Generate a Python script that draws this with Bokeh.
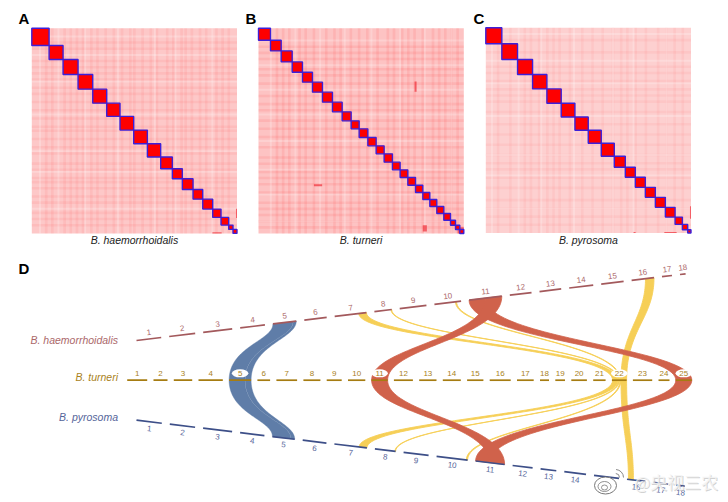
from bokeh.plotting import figure
from bokeh.models import Range1d
from bokeh.embed import file_html
from bokeh.resources import INLINE
from bokeh.core.properties import value
import math

# ---------- data ----------
names = ["B. haemorrhoidalis", "B. turneri", "B. pyrosoma"]
haem_len = [24.7, 26, 29, 24.7, 23.4, 22.4, 31.7, 17.3, 26.7, 26.7, 32.7, 21.7, 21.7, 24, 22.4, 22.4, 10, 5.6]
turn_len = [20, 14, 18.4, 24.3, 22, 12.7, 20.7, 17, 15, 17.3, 16, 19, 17.3, 18, 16.3, 21, 16.7, 9, 9.7, 15.6, 12.4, 14.7, 19.3, 11, 16]
pyro_len = [25.3, 25.3, 29, 24.3, 22.3, 23.7, 32.5, 20.7, 25, 31, 29, 20, 15.7, 21.7, 25, 18.3, 15, 8.4]

# contact-map block sizes
hic_a = [17.3, 14, 15, 14.7, 14, 13.3, 13.7, 13.7, 13.3, 11.7, 10, 10.7, 9.7, 10, 8.3, 7.7, 4.3, 4]
hic_b = [12, 10.7, 11, 10.3, 10, 10, 10, 9.7, 9, 8, 8.7, 8.3, 8, 8.3, 7.7, 7.7, 7.7, 7.3, 7, 7, 7, 6.7, 5, 4.3, 4]
hic_c = [16, 15.7, 15, 14.3, 14.3, 13.7, 13.3, 13, 13, 11, 10, 10, 10, 10, 9.7, 7.3, 5.3, 3.3]

# stripes in the contact maps (fraction along the axis)
dark_a = [.07, .10, .16, .19, .22, .25, .29, .32, .36, .40, .44, .48, .50, .54, .58, .61, .66, .69, .73, .75, .78, .82, .85, .90, .93, .96]
light_a = [.04, .13, .26, .42, .60, .70, .88]
dark_b = [.09, .12, .15, .20, .23, .27, .33, .37, .40, .45, .49, .53, .58, .63, .66, .70, .73, .76, .80, .85, .88, .91, .94, .97]
light_b = [.06, .18, .30, .42, .55, .69, .81, .94]
dark_c = [.06, .12, .19, .22, .26, .30, .33, .36, .41, .47, .52, .57, .62, .66, .69, .73, .78, .84, .88, .92, .96]
light_c = [.03, .16, .27, .43, .62, .72, .88]
# strong patches (x0, x1, y0, y1 as fractions)
spots_a = [(.995, 1, .88, .925), (.88, .925, .995, 1)]
spots_b = [(.76, .77, .26, .31), (.27, .31, .76, .77), (.80, .82, .96, .99), (.97, 1, .97, 1)]
spots_c = [(.995, 1, .87, .93), (.87, .93, .995, 1), (.72, .73, .995, 1)]

# synteny links: (other track, chromosome, from, to, turneri chromosome, from, to, colour key)
links = [
    (0, 5, 0, .86, 5, 0, .72, "b"), (0, 5, .87, 1, 5, .73, 1, "b"),
    (2, 5, 0, .83, 5, 0, .72, "b"), (2, 5, .84, 1, 5, .73, 1, "b"),
    (0, 7, .76, 1, 22, .05, .42, "y"), (0, 8, .96, 1, 22, .44, .52, "y"),
    (0, 10, .79, .83, 22, .55, .61, "y"), (0, 16, .62, 1, 22, .62, 1, "y"),
    (2, 7, .76, 1, 22, .05, .42, "y"), (2, 8, .97, 1, 22, .44, .52, "y"),
    (2, 10, .96, 1, 22, .55, .61, "y"), (2, 16, .08, .35, 22, .62, 1, "y"),
    (0, 11, 0, .5, 25, 0, 1, "r"), (0, 11, .5, 1, 11, 0, 1, "r"),
    (2, 11, 0, .48, 25, 0, 1, "r"), (2, 11, .48, 1, 11, 0, 1, "r"),
]
oval_chroms = [5, 11, 22, 25]

# ---------- styles ----------
link_col = {"b": "#5f7da8", "y": "#f6cf57", "r": "#d0624b"}
link_bend = {"b": (.3, .4), "y": (.4, .5), "r": (.5, .6)}
link_edge = {"b": .4, "y": .9, "r": .8}
track_col = ["#a3595c", "#a67c12", "#3d4f88"]
label_col = ["#ad6a6c", "#a9821c", "#55659a"]
name_col = ["#ab686a", "#a9821c", "#55659a"]
font = value("Liberation Sans")

p = figure(width=728, height=502, x_range=Range1d(0, 728), y_range=Range1d(502, 0),
           output_backend="svg", toolbar_location=None, min_border=0)
p.axis.visible = False
p.grid.visible = False
p.outline_line_color = None
p.background_fill_color = "white"


def heatmap(x0, y0, size, base, k, blocks, dark, light, spots, letter, lx, title):
    p.quad(left=[x0], right=[x0 + size], top=[y0], bottom=[y0 + size],
           fill_color=base, line_color=None)
    w = 2.6
    for f in dark:
        c = min(max(x0 + f * size, x0 + w / 2), x0 + size - w / 2)
        r = min(max(y0 + f * size, y0 + w / 2), y0 + size - w / 2)
        p.quad(left=[c - w / 2], right=[c + w / 2], top=[y0], bottom=[y0 + size], fill_color="#f33",
               fill_alpha=k, line_color=None)
        p.quad(left=[x0], right=[x0 + size], top=[r - w / 2], bottom=[r + w / 2], fill_color="#f33",
               fill_alpha=k, line_color=None)
    for f in light:
        c = x0 + f * size
        r = y0 + f * size
        p.quad(left=[c - 1], right=[c + 1], top=[y0], bottom=[y0 + size], fill_color="white",
               fill_alpha=.22, line_color=None)
        p.quad(left=[x0], right=[x0 + size], top=[r - 1], bottom=[r + 1], fill_color="white",
               fill_alpha=.22, line_color=None)
    for a, b, c, d in spots:
        p.quad(left=[x0 + a * size], right=[x0 + b * size], top=[y0 + c * size], bottom=[y0 + d * size],
               fill_color="#f0303a", fill_alpha=.7, line_color=None)
    total = sum(blocks)
    pos = 0
    ls, rs, ts, bs = [], [], [], []
    for b in blocks:
        ls.append(x0 + pos / total * size)
        ts.append(y0 + pos / total * size)
        pos += b
        rs.append(x0 + pos / total * size)
        bs.append(y0 + pos / total * size)
    p.quad(left=ls, right=rs, top=ts, bottom=bs, fill_color="#fe0000", line_color="#3d20d8", line_width=1.4)
    p.text([lx], [18], text=[letter], text_font=value("Liberation Sans"), text_font_style="bold",
           text_font_size="15px", text_color="black", text_align="left", text_baseline="middle")
    p.text([x0 + size / 2], [239.5], text=[title], text_font=font, text_font_style="italic",
           text_font_size="10.5px", text_color="#222", text_align="center", text_baseline="middle")


heatmap(31.3, 27.7, 205.2, "#fdc8c8", .08, hic_a, dark_a, light_a, spots_a, "A", 18, names[0])
heatmap(258, 27.7, 205.3, "#fdc3c3", .11, hic_b, dark_b, light_b, spots_b, "B", 245, names[1])
heatmap(485.3, 27.3, 205.2, "#fdd0d0", .06, hic_c, dark_c, light_c, spots_c, "C", 473, names[2])
p.text([18], [267.5], text=["D"], text_font=font, text_font_style="bold", text_font_size="15px",
       text_color="black", text_align="left", text_baseline="middle")


# ---------- karyotype tracks ----------
def layout(lengths, start, gap):
    out = []
    x = start
    for l in lengths:
        out.append((x, x + l))
        x += l + gap
    return out


tracks = [layout(haem_len, 136, 8.0), layout(turn_len, 126.7, 6.3), layout(pyro_len, 136, 8.0)]
y_fn = [lambda x: 340 - .1214 * (x - 136), lambda x: 379.7, lambda x: 419.7 + .1204 * (x - 136)]
ang = [math.degrees(math.atan(.1214)), 0, -math.degrees(math.atan(.1204))]
lab_off = [-6.5, -7, 7]


def bez(x0, y0, x1, y1, bend, n=48):
    c1 = y0 + bend[0] * (y1 - y0)
    c2 = y0 + bend[1] * (y1 - y0)
    xs, ys = [], []
    for i in range(n + 1):
        t = i / n
        u = 1 - t
        xs.append(u**3 * x0 + 3 * u * u * t * x0 + 3 * u * t * t * x1 + t**3 * x1)
        ys.append(u**3 * y0 + 3 * u * u * t * c1 + 3 * u * t * t * c2 + t**3 * y1)
    return xs, ys


for tr, ch, a, b, mch, c, d, key in links:
    s0, s1 = tracks[tr][ch - 1]
    m0, m1 = tracks[1][mch - 1]
    xa, xb = s0 + a * (s1 - s0), s0 + b * (s1 - s0)
    xc, xd = m0 + c * (m1 - m0), m0 + d * (m1 - m0)
    ya, yb, yc = y_fn[tr](xa), y_fn[tr](xb), y_fn[1](xc)
    l1x, l1y = bez(xa, ya, xc, yc, link_bend[key])
    l2x, l2y = bez(xb, yb, xd, yc, link_bend[key])
    p.patch(l1x + l2x[::-1], l1y + l2y[::-1], fill_color=link_col[key], line_color=link_col[key],
            line_width=link_edge[key])

# white ovals behind the turneri labels that sit on ribbons
for ch in oval_chroms:
    a, b = tracks[1][ch - 1]
    p.ellipse([(a + b) / 2], [372.8], width=[16.5], height=[8], fill_color="white", line_color=None)

for i, tr in enumerate(tracks):
    xs0 = [a for a, b in tr]
    xs1 = [b for a, b in tr]
    p.segment(xs0, [y_fn[i](x) for x in xs0], xs1, [y_fn[i](x) for x in xs1],
              line_color=track_col[i], line_width=1.7, line_cap="butt")
    mids = [(a + b) / 2 for a, b in tr]
    p.text(mids, [y_fn[i](m) + lab_off[i] for m in mids], text=[str(k + 1) for k in range(len(tr))],
           text_font=font, text_font_size="8px", text_color=label_col[i], text_align="center",
           text_baseline="middle", angle=ang[i], angle_units="deg")

for n, yy, col in zip(names, [339.5, 376.3, 416.3], name_col):
    p.text([117.5], [yy], text=[n], text_font=font, text_font_style="italic", text_font_size="10.5px",
           text_color=col, text_align="right", text_baseline="middle")

# ---------- watermark ----------
p.ellipse([605], [485], width=[22], height=[17], fill_color="white", line_color="#777", line_width=1)
p.ellipse([604], [486], width=[13], height=[10], fill_color=None, line_color="#777", line_width=.8)
p.ellipse([604], [487], width=[6], height=[5], fill_color=None, line_color="#777", line_width=.8)
p.arc([615], [477], radius=[4], start_angle=[0], end_angle=[1.5], line_color="#888", line_width=1)
p.arc([615], [477], radius=[8], start_angle=[0], end_angle=[1.5], line_color="#888", line_width=1)
p.text([634.5], [481.5], text=["@央视三农"], text_font=value("Noto Sans CJK SC"), text_font_size="17px",
       text_color="#c4c4c4", text_alpha=.75, text_align="left", text_baseline="middle")
p.text([633.5], [480.5], text=["@央视三农"], text_font=value("Noto Sans CJK SC"), text_font_size="17px",
       text_color="#f4f4f4", text_alpha=.85, text_align="left", text_baseline="middle")

open("out.html", "w").write(file_html(p, INLINE))
